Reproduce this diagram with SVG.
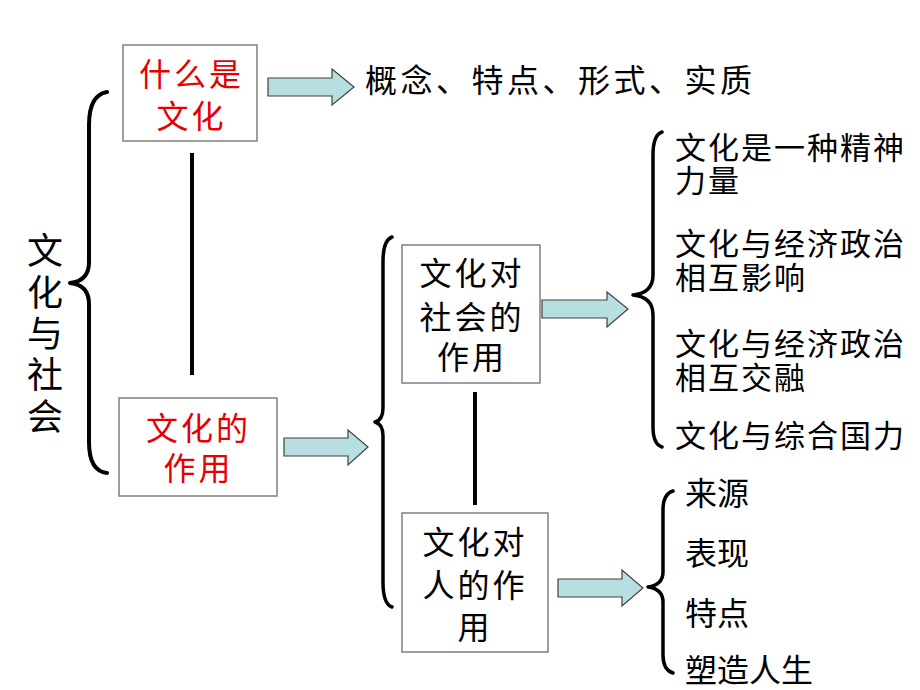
<svg xmlns="http://www.w3.org/2000/svg" width="920" height="690" viewBox="0 0 920 690">
<style>
text{font-family:"Noto Sans CJK SC","Liberation Sans",sans-serif;font-size:32px;fill:#000}
.red{fill:#e60000}
.c{text-anchor:middle;letter-spacing:3px}
.box{fill:#fff;stroke:#7f7f7f;stroke-width:1.5}
.arrow{fill:#b7dee0;stroke:#404040;stroke-width:1.2}
.brace{fill:none;stroke:#000;stroke-width:4;stroke-linecap:round;stroke-linejoin:round}
.link{stroke:#000;stroke-width:4}
.item{font-size:31px;letter-spacing:2px}
</style>
<rect width="920" height="690" fill="#fff"/>
<g id="connectors">
<path class="brace" d="M107,92 Q89,95 89,125 L89,262 Q89,281 70,283 Q89,285 89,304 L89,442 Q89,471 107,473"/>
<path class="brace" style="stroke-width:3.5" d="M392,237 Q383,240 383,262 L383,408 Q383,420 375,422 Q383,424 383,436 L383,582 Q383,604 392,607"/>
<path class="brace" style="stroke-width:3.5" d="M662,132 Q653,135 653,155 L653,275 Q653,293 633,295 Q653,297 653,315 L653,427 Q653,444 662,447"/>
<path class="brace" style="stroke-width:3.5" d="M673,491 Q663,494 663,510 L663,572 Q663,585 648,587 Q663,589 663,602 L663,655 Q663,670 673,673"/>
<line class="link" x1="192" y1="153" x2="192" y2="375"/>
<line class="link" x1="475" y1="392" x2="475" y2="505"/>
<polygon class="arrow" points="268,78 332,78 332,69 354,87 332,105 332,96 268,96"/>
<polygon class="arrow" points="284,438 348,438 348,430 368,447 348,465 348,456 284,456"/>
<polygon class="arrow" points="542,300 607,300 607,292 628,309 607,327 607,318 542,318"/>
<polygon class="arrow" points="558,579 622,579 622,570 643,588 622,606 622,597 558,597"/>
</g>
<g id="root">
<text x="45" y="264" text-anchor="middle" style="font-size:36px">文<tspan x="45" dy="42">化</tspan><tspan x="45" dy="41">与</tspan><tspan x="45" dy="41">社</tspan><tspan x="45" dy="42">会</tspan></text>
</g>
<g id="what">
<rect class="box" x="123" y="45" width="134" height="96"/>
<text class="c red" x="191.5" y="86">什么是</text>
<text class="c red" x="191.5" y="128">文化</text>
</g>
<g id="what-items">
<text x="365" y="92" style="letter-spacing:3.5px">概念、特点、形式、实质</text>
</g>
<g id="role">
<rect class="box" x="119" y="398" width="158" height="98"/>
<text class="c red" x="198.5" y="440">文化的</text>
<text class="c red" x="198.5" y="480">作用</text>
</g>
<g id="society">
<rect class="box" x="402" y="245" width="138" height="138"/>
<text class="c" x="472" y="285">文化对</text>
<text class="c" x="472" y="329">社会的</text>
<text class="c" x="472" y="369">作用</text>
</g>
<g id="person">
<rect class="box" x="402" y="513" width="146" height="139"/>
<text class="c" x="475" y="554">文化对</text>
<text class="c" x="475" y="597">人的作</text>
<text class="c" x="475" y="639">用</text>
</g>
<g id="society-items" class="item">
<text class="item" x="675" y="159">文化是一种精神</text>
<text class="item" x="675" y="192">力量</text>
<text class="item" x="675" y="255">文化与经济政治</text>
<text class="item" x="675" y="289">相互影响</text>
<text class="item" x="675" y="355">文化与经济政治</text>
<text class="item" x="675" y="389">相互交融</text>
<text class="item" x="675" y="447">文化与综合国力</text>
</g>
<g id="person-items">
<text x="685" y="505">来源</text>
<text x="685" y="565">表现</text>
<text x="685" y="625">特点</text>
<text x="685" y="682">塑造人生</text>
</g>
</svg>
